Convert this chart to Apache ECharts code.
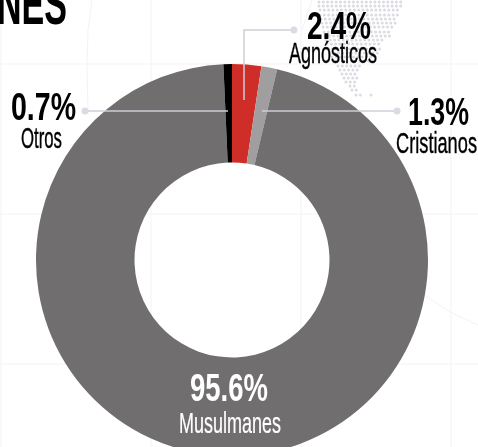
<!DOCTYPE html>
<html><head><meta charset="utf-8">
<style>html,body{margin:0;padding:0;background:#fff}#c{width:478px;height:447px}</style>
<script src="https://cdn.jsdelivr.net/npm/echarts@6/dist/echarts.min.js"></script></head>
<body><div id="c"></div>
<script>
const names = ['Agnósticos','Cristianos','Musulmanes','Otros'];
const values = [2.4,1.3,95.6,0.7];
const colors = ['#cf2e28','#a09e9f','#706e6f','#000000'];
const FONT = '"Liberation Sans Narrow","Liberation Sans",sans-serif';
// row y, x start, x end of the faint dot-map background
const mapRows = [[2,319,403],[6,319,403],[10,320,400],[15,320,398],[19,321,396],[23,322,396],[27,323,394],[32,324,392],[36,325,390],[40,326,386],[44,327,382],[49,328,380],[53,330,378],[57,332,376],[61,334,372],[66,338,362],[70,340,360],[74,342,358],[78,344,358],[82,346,358],[86,350,358],[90,352,360],[95,356,364]];
const mapExtras = [[371,95]];
const gridX = [1,151,301,451];
const gridY = [64,214,364];
const ctx = document.createElement('canvas').getContext('2d');
function txt(s,left,right,bottom,size,weight,color,stroke){
  const font = weight+' '+size+'px '+FONT;
  ctx.font = font;
  const w = ctx.measureText(s).width;
  return {type:'text',x:left,y:bottom,scaleX:(right-left)/w,z:20,silent:true,
    style:{text:s,font:font,fill:color,align:'left',verticalAlign:'bottom',stroke:stroke?color:null,lineWidth:stroke||0}};
}
function line(pts,color,w,z){
  return {type:'polyline',z:z,silent:true,shape:{points:pts},style:{stroke:color,lineWidth:w,fill:null}};
}
const LC='#dcdbe3';
const g=[];
gridX.forEach(x=>g.push(line([[x,0],[x,447]],'#f3f3f5',1,1)));
gridY.forEach(y=>g.push(line([[0,y],[478,y]],'#f3f3f5',1,1)));
g.push(line([[92,0],[88,30],[87,65],[88,111]],'#f3f3f5',1,1));
g.push(line([[312,0],[302,30]],'#f3f3f5',1,1));
g.push(line([[420,292],[450,312],[478,325]],'#f3f3f5',1,1));
mapRows.forEach(r=>{for(let x=r[1];x<=r[2];x+=4.3)g.push({type:'circle',z:2,silent:true,shape:{cx:x,cy:r[0],r:1.5},style:{fill:'#dcdbe3'}});});
mapExtras.forEach(p=>g.push({type:'circle',z:2,silent:true,shape:{cx:p[0],cy:p[1],r:1.5},style:{fill:'#dcdbe3'}}));
// leaders
g.push(line([[85,111],[228,111]],'#cfced6',1.5,15));
g.push(line([[397,111],[262,111]],'#cfced6',1.5,15));
g.push(line([[294,30],[244,30],[244,100]],'#cfced6',1.5,15));
[[85,111],[397,111],[294,30]].forEach(p=>g.push({type:'circle',z:15,silent:true,shape:{cx:p[0],cy:p[1],r:3.5},style:{fill:LC}}));
// labels
g.push(txt('NES',-3,67,37,60,'bold','#000'));
const pct=v=>v.toFixed(1)+'%';
g.push(txt(pct(values[0]),307,371,48,39,'bold','#000'));
g.push(txt(names[0],289,377,69,29,'normal','#000',0.4));
g.push(txt(pct(values[1]),408,469,134,39,'bold','#000'));
g.push(txt(names[1],396,477,159,29,'normal','#000',0.4));
g.push(txt(pct(values[2]),190,268,410,39,'bold','#fff'));
g.push(txt(names[2],179,281,439,29,'normal','#fff',0.2));
g.push(txt(pct(values[3]),11,76,129,39,'bold','#000'));
g.push(txt(names[3],21,62,154,29,'normal','#000',0.4));
const chart=echarts.init(document.getElementById('c'),null,{renderer:'canvas'});
chart.setOption({animation:false,backgroundColor:'#fff',
 series:[{type:'pie',center:[232,260],radius:[97.5,196],startAngle:90,silent:true,z:5,
   label:{show:false},labelLine:{show:false},itemStyle:{borderWidth:0},
   data:names.map((n,i)=>({name:n,value:values[i],itemStyle:{color:colors[i]}}))}],
 graphic:{elements:g}});
</script></body></html>
